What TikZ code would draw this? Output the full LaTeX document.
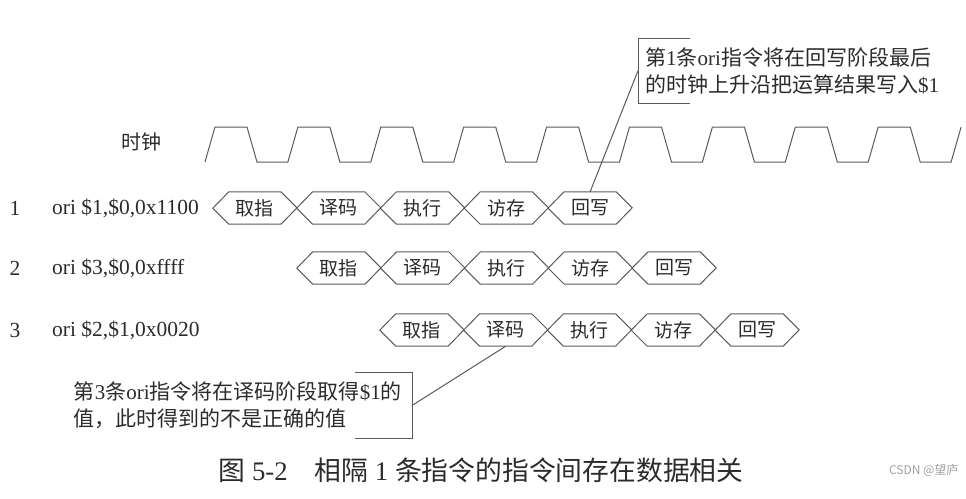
\documentclass[tikz,border=0pt]{standalone}
\usepackage{fontspec}
\setmainfont{Liberation Serif}
\newfontfamily\cjk{Noto Sans CJK SC}
\newcommand\zh[1]{{\cjk #1}}
\usetikzlibrary{positioning,calc}
\definecolor{ink}{HTML}{2B2B2B}
\definecolor{wire}{HTML}{5A5A5A}
\definecolor{wmark}{HTML}{A0A0A0}

\begin{document}
\begin{tikzpicture}[x=1pt,y=-1pt,font=\fontsize{19}{27}\selectfont,
  stage/.style={minimum width=51.8pt,minimum height=32pt,inner sep=0pt,text=ink},
  note/.style={align=left,text=ink,minimum height=65pt,inner ysep=0pt,font=\fontsize{21}{27}\selectfont},
  wire/.style={draw=wire,line width=1pt}]
  \useasboundingbox (0,0) rectangle (966,498);
  \node[ink,font=\fontsize{20}{24}\selectfont] (clk) at (141,142) {\zh{时钟}};
  \draw[wire] (205,162) \foreach \k in {1,...,9}{ -- ++(10,-35) -- ++(32,0) -- ++(10,35) -- ++(30.9,0)} -- ++(10,-35);
  \foreach \r/\xs/\y/\ins in {1/213/208/{ori \$1,\$0,0x1100},2/297/268/{ori \$3,\$0,0xffff},3/380/330/{ori \$2,\$1,0x0020}}{
    \node[ink,font=\fontsize{21.5}{24}\selectfont] (n\r) at (15,\y) {\r};
    \node[ink,anchor=west,inner sep=0pt,font=\fontsize{21.5}{24}\selectfont] (i\r) at (52,\y) {\ins};
    \foreach \t [count=\s] in {取指,译码,执行,访存,回写}{
      \node[stage] (st\r\s) at (\xs+83.8*\s-41.9,\y) {\zh{\t}};
      \draw[wire] (st\r\s.north west) -- (st\r\s.north east) -- ++(16,16) -- (st\r\s.south east)
        -- (st\r\s.south west) -- ++(-16,-16) -- cycle;
    }
  }
  \node[note,anchor=north west,inner xsep=7pt] (note1) at (638,38)
    {\zh{第}1\zh{条}ori\zh{指令将在回写阶段最后}\\\zh{的时钟上升沿把运算结果写入}\$1};
  \draw[wire] ([xshift=52pt]note1.north west) -- (note1.north west) -- (note1.south west) -- ([xshift=52pt]note1.south west);
  \draw[wire] (note1.west) -- (st15.north);
  \node[note,anchor=east,inner xsep=10pt] (note2) at (412,405.5)
    {\zh{第}3\zh{条}ori\zh{指令将在译码阶段取得}\$1\zh{的}\\\zh{值，此时得到的不是正确的值}};
  \draw[wire] ([xshift=-57pt]note2.north east) -- (note2.north east) -- (note2.south east) -- ([xshift=-57pt]note2.south east);
  \draw[wire] (note2.east) -- (st32.south);
  \node[ink,font=\fontsize{26.8}{30}\selectfont] (cap) at (481,470)
    {\zh{图} 5-2\quad\zh{相隔} 1 \zh{条指令的指令间存在数据相关}};
  \node[wmark,font=\fontsize{12}{14}\selectfont,anchor=east] (wm) at (962,470) {\zh{CSDN @望庐}};
\end{tikzpicture}
\end{document}
